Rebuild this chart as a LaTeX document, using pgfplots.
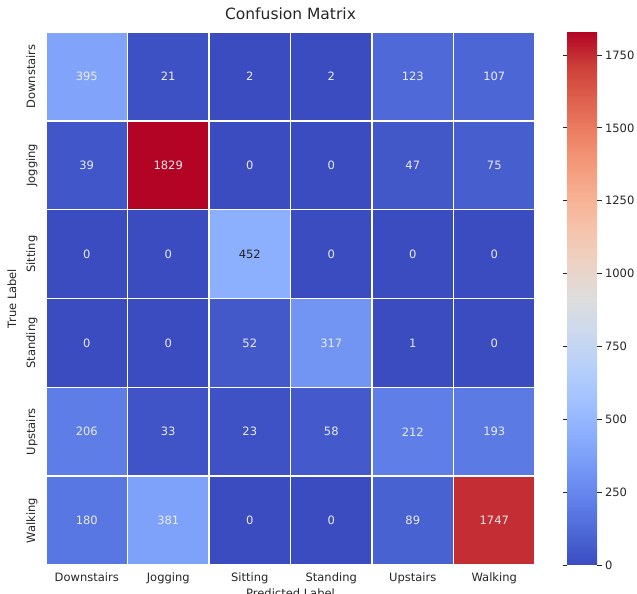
\documentclass[border=0pt]{standalone}
\usepackage{pgfplots}
\pgfplotsset{compat=1.18}
\usepackage{fontspec}
\setmainfont{DejaVu Sans}
\definecolor{tk}{HTML}{262626}
\pgfplotsset{colormap={coolwarm}{
rgb255=(59,76,192) rgb255=(77,104,215) rgb255=(98,130,234) rgb255=(119,154,247)
rgb255=(141,176,254) rgb255=(163,194,255) rgb255=(184,208,249) rgb255=(204,217,238)
rgb255=(221,221,221) rgb255=(236,211,197) rgb255=(245,196,173) rgb255=(247,177,148)
rgb255=(244,154,123) rgb255=(236,127,99) rgb255=(222,96,77) rgb255=(203,62,56)
rgb255=(180,4,38)}}
\begin{document}
\begin{tikzpicture}
\begin{axis}[
  name=main,
  scale only axis,
  width=489pt, height=533pt,
  xmin=-0.5, xmax=5.5, ymin=-0.5, ymax=5.5,
  y dir=reverse,
  enlargelimits=false,
  axis on top,
  axis line style={draw=none},
  colormap name=coolwarm,
  point meta min=0, point meta max=1829,
  xtick={0,...,5}, ytick={0,...,5},
  xticklabels={Downstairs,Jogging,Sitting,Standing,Upstairs,Walking},
  yticklabels={Downstairs,Jogging,Sitting,Standing,Upstairs,Walking},
  major tick length=0pt,
  minor xtick={-0.5,0.5,...,5.5}, minor ytick={-0.5,0.5,...,5.5},
  minor tick length=0pt,
  xminorgrids, yminorgrids,
  minor grid style={white, line width=1.6pt},
  tick label style={font=\fontsize{11.5}{13}\selectfont, text=tk},
  xticklabel style={anchor=north, yshift=-4pt},
  yticklabel style={rotate=90, anchor=base},
  yticklabel shift=11pt,
  title={Confusion Matrix},
  title style={font=\fontsize{15.5}{18}\selectfont, text=tk, at={(0.5,1)}, anchor=south, inner sep=0pt, yshift=6pt},
  xlabel={Predicted Label},
  ylabel={True Label},
  every axis x label/.style={at={(axis description cs:0.5,0)}, anchor=north, inner sep=0pt, yshift=-24pt, font=\fontsize{11.5}{13}\selectfont, text=tk},
  every axis y label/.style={at={(axis description cs:-0.0613,0.5)}, rotate=90, anchor=base, font=\fontsize{11.5}{13}\selectfont, text=tk},
  colorbar,
  colorbar/width=30pt,
  colorbar style={
    at={(parent axis.north east)}, anchor=north west, xshift=23.5pt,
    width=30pt,
    ytick={0,250,...,1750},
    axis line style={draw=none},
    tick align=outside,
    major tick length=4.5pt,
    ytick style={color=tk, line width=0.8pt},
    yticklabel style={font=\fontsize{11.5}{13}\selectfont, text=tk},
    /pgf/number format/assume math mode=true,
    /pgf/number format/set thousands separator={},
  },
]
\addplot[matrix plot, mesh/cols=6, point meta=explicit] table[meta=z] {
x y z
0 0 395
1 0 21
2 0 2
3 0 2
4 0 123
5 0 107
0 1 39
1 1 1829
2 1 0
3 1 0
4 1 47
5 1 75
0 2 0
1 2 0
2 2 452
3 2 0
4 2 0
5 2 0
0 3 0
1 3 0
2 3 52
3 3 317
4 3 1
5 3 0
0 4 206
1 4 33
2 4 23
3 4 58
4 4 212
5 4 193
0 5 180
1 5 381
2 5 0
3 5 0
4 5 89
5 5 1747
};
\addplot[only marks, mark=none, point meta=explicit symbolic, nodes near coords, nodes near coords align={center},
  every node near coord/.append style={text=white!92!black, font=\fontsize{11.5}{13}\selectfont, anchor=center}]
  table[meta=l] {
x y l
0 0 395
1 0 21
2 0 2
3 0 2
4 0 123
5 0 107
0 1 39
1 1 1829
2 1 0
3 1 0
4 1 47
5 1 75
0 2 0
1 2 0
3 2 0
4 2 0
5 2 0
0 3 0
1 3 0
2 3 52
3 3 317
4 3 1
5 3 0
0 4 206
1 4 33
2 4 23
3 4 58
4 4 212
5 4 193
0 5 180
1 5 381
2 5 0
3 5 0
4 5 89
5 5 1747
};
\addplot[only marks, mark=none, point meta=explicit symbolic, nodes near coords, nodes near coords align={center},
  every node near coord/.append style={text=tk, font=\fontsize{11.5}{13}\selectfont, anchor=center}]
  table[meta=l] {
x y l
2 2 452
};
\end{axis}
\pgfresetboundingbox
\useasboundingbox ([xshift=-46pt,yshift=-29pt]main.south west) rectangle ([xshift=102pt,yshift=32pt]main.north east);
\end{tikzpicture}
\end{document}
